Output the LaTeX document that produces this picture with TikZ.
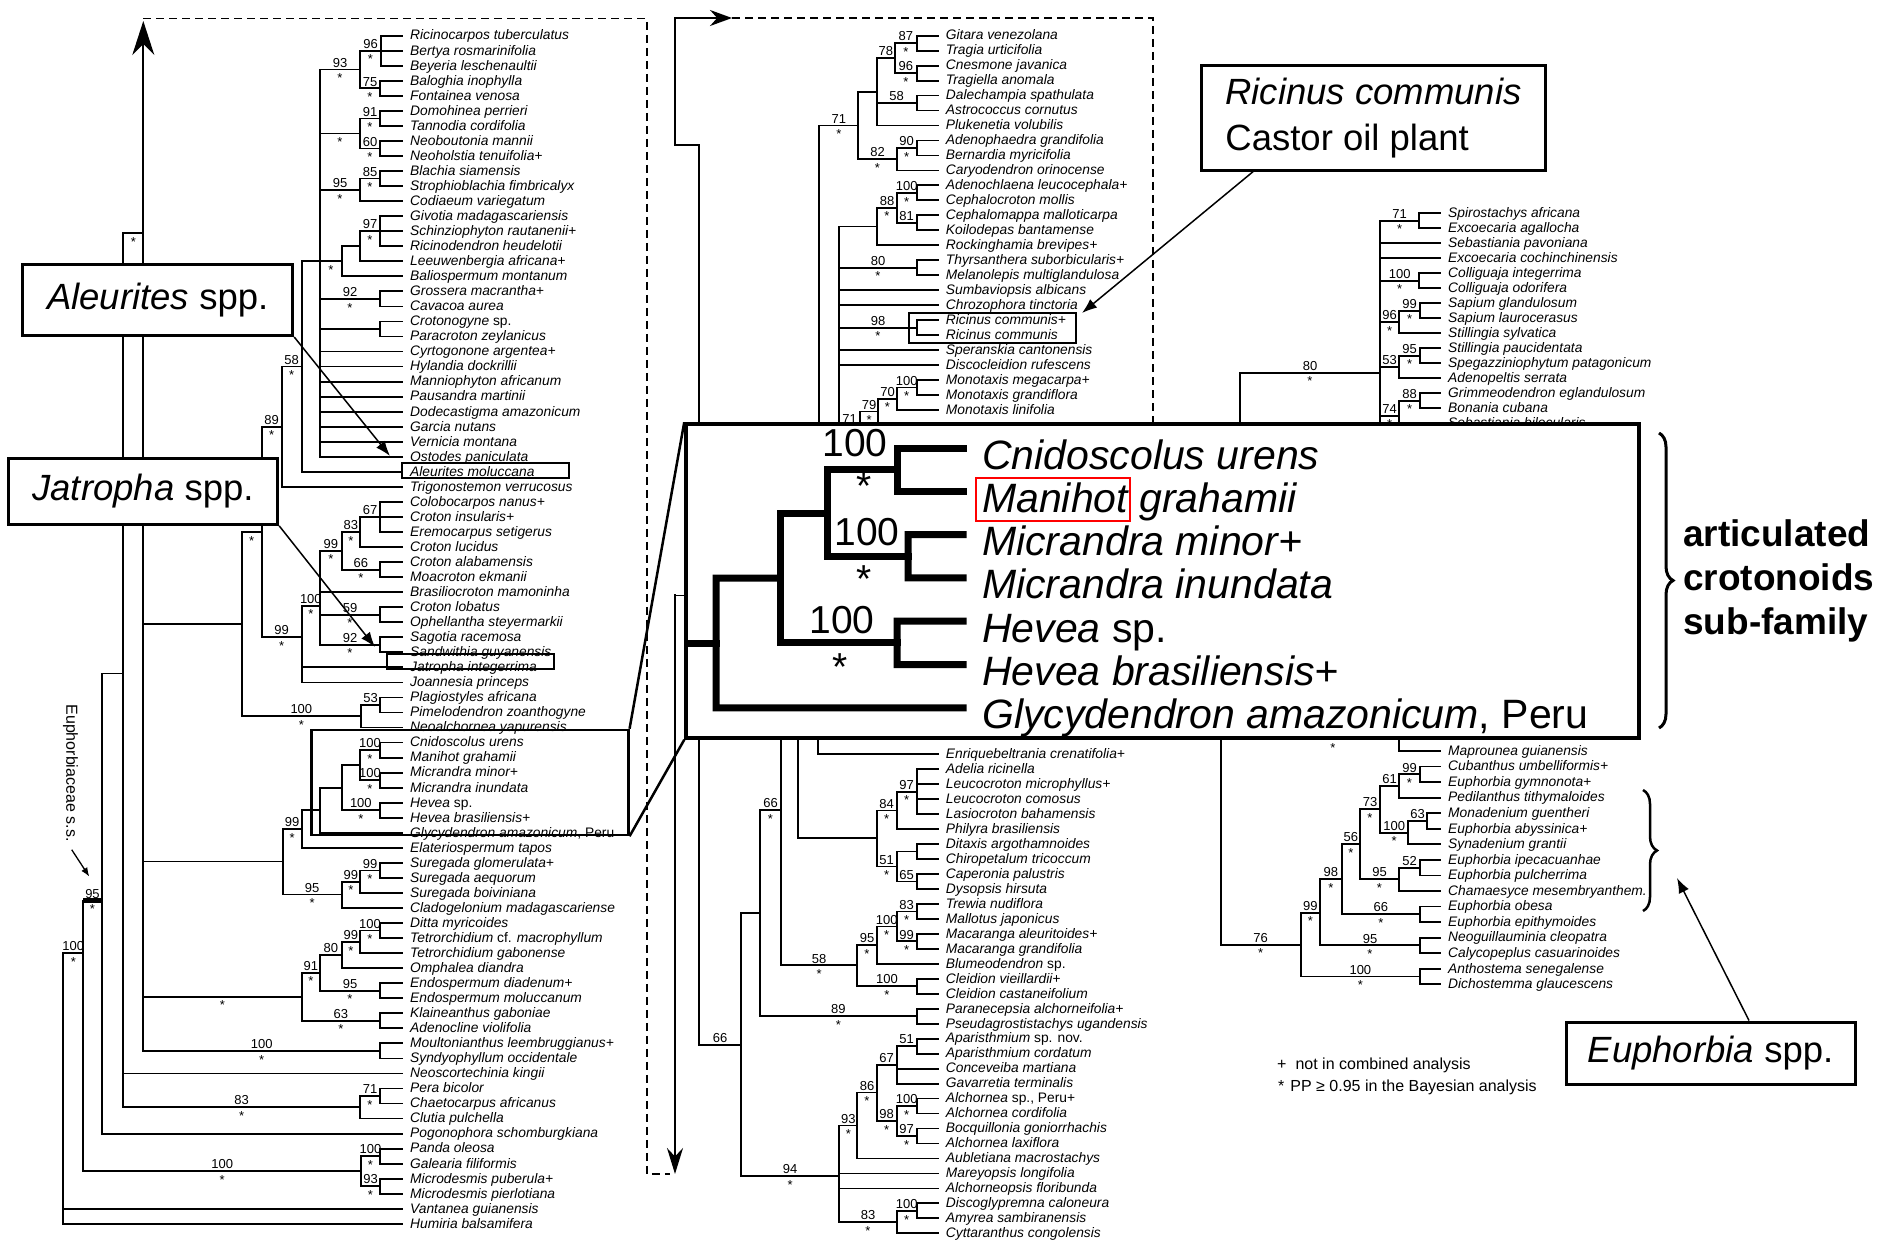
\documentclass[tikz,border=0pt]{standalone}
\usepackage{fontspec}
\setmainfont{Liberation Sans}
\usetikzlibrary{arrows.meta,decorations.pathreplacing}
\tikzset{
  br/.style={line width=1.8pt, line cap=rect},
  taxon/.style={anchor=west, inner xsep=8pt, inner ysep=0pt, text height=10pt, text depth=1.4pt, font=\fontsize{13.8}{15}\selectfont\itshape},
  bs/.style={inner sep=0pt, font=\fontsize{13}{13}\selectfont},
  ibr/.style={line width=7pt, line cap=rect},
  itaxon/.style={anchor=west, inner xsep=19pt, inner ysep=0pt, text height=42pt, text depth=0pt, font=\fontsize{41}{41}\selectfont\itshape},
  ibs/.style={inner sep=0pt, font=\fontsize{39}{39}\selectfont},
  callout/.style={draw, line width=3pt, fill=white, inner sep=0pt, align=left, font=\fontsize{36.5}{45.6}\selectfont},
  tag/.style={draw, line width=2pt},
  ptr/.style={line width=1.5pt, -{Latex[length=15pt,width=11pt]}},
  hop/.style={line width=1.6pt, dash pattern=on 8pt off 5pt},
}
% parent x, node x, stem row, top row, bottom row, bootstrap, star
\newcommand{\nd}[7]{%
  \draw[br] (#1,#3) -- (#2,#3) (#2,#4) -- (#2,#5);
  \node[bs, anchor=south, yshift=2pt] at ({(#1+#2)/2},#3) {#6};
  \node[bs, anchor=north, yshift=-4pt] at ({(#1+#2)/2},#3) {#7};}

\begin{document}
\begin{tikzpicture}[x=1pt, y=-1pt, >=Stealth]
\useasboundingbox (0,0) rectangle (1879,1241);
\fill[white] (0,0) rectangle (1879,1241);

% jumps between the columns
\draw[hop] (143.3,18.5) -- (647,18.5) -- (647,1174) -- (670,1174);
\draw[hop] (732,18) -- (1153,18) -- (1153,600);
\draw[br, -{Stealth[length=34pt, width=22pt]}] (143.3,240) -- (143.3,21);
\draw[br, -{Stealth[length=22pt, width=16pt]}] (675,145) -- (675,18) -- (732,18);
\draw[br, -{Stealth[length=26pt, width=16pt]}] (675,595) -- (675,1174);

% left column
\begin{scope}[yshift=-20.66pt, y=-15.04pt]
\foreach \nm/\px [count=\i] in {Ricinocarpos tuberculatus/381, Bertya rosmarinifolia/381,
  Beyeria leschenaultii/381, Baloghia inophylla/380, Fontainea venosa/380, Domohinea perrieri/380,
  Tannodia cordifolia/380, Neoboutonia mannii/380, Neoholstia tenuifolia+/380, Blachia siamensis/380,
  Strophioblachia fimbricalyx/380, Codiaeum variegatum/360, Givotia madagascariensis/380,
  Schinziophyton rautanenii+/380, Ricinodendron heudelotii/380, Leeuwenbergia africana+/360,
  Baliospermum montanum/341.7, Grossera macrantha+/380, Cavacoa aurea/380, Crotonogyne \textup{sp.}/380,
  Paracroton zeylanicus/380, Cyrtogonone argentea+/320, Hylandia dockrillii/320, Manniophyton africanum/320,
  Pausandra martinii/320, Dodecastigma amazonicum/320, Garcia nutans/320, Vernicia montana/320,
  Ostodes paniculata/320, Aleurites moluccana/301.7, Trigonostemon verrucosus/281.7,
  Colobocarpos nanus+/380, Croton insularis+/380, Eremocarpus setigerus/380, Croton lucidus/360,
  Croton alabamensis/380, Moacroton ekmanii/380, Brasiliocroton mamoninha/320, Croton lobatus/380,
  Ophellantha steyermarkii/380, Sagotia racemosa/380, Sandwithia guyanensis/380,
  Jatropha integerrima/301.7, Joannesia princeps/301.7, Plagiostyles africana/380,
  Pimelodendron zoanthogyne/380, Neoalchornea yapurensis/361, Cnidoscolus urens/380,
  Manihot grahamii/380, Micrandra minor+/380, Micrandra inundata/380, Hevea \textup{sp.}/380,
  Hevea brasiliensis+/380, Glycydendron amazonicum\textup{, Peru}/320, Elateriospermum tapos/301.7,
  Suregada glomerulata+/380, Suregada aequorum/380, Suregada boiviniana/360,
  Cladogelonium madagascariense/341.7, Ditta myricoides/380, Tetrorchidium \textup{cf.} macrophyllum/380,
  Tetrorchidium gabonense/360, Omphalea diandra/341.7, Endospermum diadenum+/380,
  Endospermum moluccanum/380, Klaineanthus gaboniae/380, Adenocline violifolia/380,
  Moultonianthus leembruggianus+/380, Syndyophyllum occidentale/380, Neoscortechinia kingii/123.3,
  Pera bicolor/380, Chaetocarpus africanus/380, Clutia pulchella/360, Pogonophora schomburgkiana/101.7,
  Panda oleosa/380, Galearia filiformis/380, Microdesmis puberula+/380, Microdesmis pierlotiana/380,
  Vantanea guianensis/63.3, Humiria balsamifera/63.3}{
  \node[taxon] (L\i) at (402,\i) {\nm};
  \draw[br] (\px,\i) -- (L\i.west);
}
\nd{360}{381}{2}{1}{3}{96}{*}
\nd{360}{380}{4.5}{4}{5}{75}{*}
\nd{320}{360}{3.25}{2}{4.5}{93}{*}
\nd{360}{380}{6.5}{6}{7}{91}{*}
\nd{360}{380}{8.5}{8}{9}{60}{*}
\nd{320}{360}{7.5}{6.5}{8.5}{}{*}
\nd{360}{380}{10.5}{10}{11}{85}{*}
\nd{320}{360}{11.25}{10.5}{12}{95}{*}
\nd{360}{380}{14}{13}{15}{97}{*}
\nd{341.7}{360}{15}{14}{16}{}{}
\nd{320}{341.7}{16}{15}{17}{}{*}
\nd{320}{380}{18.5}{18}{19}{92}{*}
\nd{320}{380}{20.5}{20}{21}{}{}
\nd{301.7}{320}{16}{3.25}{29}{}{}
\nd{281.7}{301.7}{23}{16}{30}{58}{*}
\nd{261.7}{281.7}{27}{23}{31}{89}{*}
\nd{360}{380}{33}{32}{34}{67}{}
\nd{341.7}{360}{34}{33}{35}{83}{*}
\nd{341.7}{380}{36.5}{36}{37}{66}{*}
\nd{320}{341.7}{35.25}{34}{36.5}{99}{*}
\nd{320}{380}{39.5}{39}{40}{59}{*}
\nd{320}{380}{41.5}{41}{42}{92}{*}
\nd{301.7}{320}{38.9}{35.25}{41.5}{100}{*}
\nd{261.7}{301.7}{41}{38.9}{44}{99}{*}
\nd{241.7}{261.7}{34}{27}{41}{}{*}
\nd{361}{380}{45.5}{45}{46}{53}{}
\nd{241.7}{361}{46.25}{45.5}{47}{100}{*}
\nd{143.3}{241.7}{40.1}{34}{46.25}{}{}
\nd{360}{380}{48.5}{48}{49}{100}{*}
\nd{360}{380}{50.5}{50}{51}{100}{*}
\nd{341.7}{360}{49.5}{48.5}{50.5}{}{}
\nd{341.7}{380}{52.5}{52}{53}{100}{*}
\nd{320}{341.7}{51}{49.5}{52.5}{}{}
\nd{301.7}{320}{52.5}{51}{54}{}{}
\nd{282.7}{301.7}{53.75}{52.5}{55}{99}{*}
\nd{360}{380}{56.5}{56}{57}{99}{*}
\nd{341.7}{360}{57.25}{56.5}{58}{99}{*}
\nd{282.7}{341.7}{58.1}{57.25}{59}{95}{*}
\nd{143.3}{282.7}{55.9}{53.75}{58.1}{}{}
\nd{360}{380}{60.5}{60}{61}{100}{*}
\nd{341.7}{360}{61.25}{60.5}{62}{99}{*}
\nd{320}{341.7}{62.1}{61.25}{63}{80}{}
\nd{320}{380}{64.5}{64}{65}{95}{*}
\nd{301.7}{320}{63.3}{62.1}{64.5}{91}{*}
\nd{301.7}{380}{66.5}{66}{67}{63}{*}
\nd{143.3}{301.7}{64.9}{63.3}{66.5}{}{*}
\nd{143.3}{380}{68.5}{68}{69}{100}{*}
\nd{360}{380}{71.5}{71}{72}{71}{*}
\nd{123.3}{360}{72.25}{71.5}{73}{83}{*}
\nd{361}{380}{75.5}{75}{76}{100}{*}
\nd{361}{380}{77.5}{77}{78}{93}{*}
\nd{83.3}{361}{76.5}{75.5}{77.5}{100}{*}
\nd{123.3}{143.3}{14.12}{14.12}{68.5}{}{*}
\nd{101.7}{123.3}{43.4}{14.12}{72.25}{}{}
\nd{83.3}{101.7}{58.5}{43.4}{74}{95}{*}
\draw[line width=5pt] (83.3,58.5) -- (101.7,58.5);
\nd{63.3}{83.3}{62}{58.5}{76.5}{100}{*}
\draw[br] (63.3,62) -- (63.3,80);
\end{scope}

% middle column
\begin{scope}[yshift=-20.73pt, y=-14.97pt]
\foreach \nm/\px [count=\i] in {Gitara venezolana/916.7, Tragia urticifolia/916.7, Cnesmone javanica/916.7,
  Tragiella anomala/916.7, Dalechampia spathulata/916.7, Astrococcus cornutus/916.7,
  Plukenetia volubilis/876.7, Adenophaedra grandifolia/916.7, Bernardia myricifolia/916.7,
  Caryodendron orinocense/896.7, Adenochlaena leucocephala+/916.7, Cephalocroton mollis/916.7,
  Cephalomappa malloticarpa/916.7, Koilodepas bantamense/916.7, Rockinghamia brevipes+/877.3,
  Thyrsanthera suborbicularis+/916.7, Melanolepis multiglandulosa/916.7, Sumbaviopsis albicans/839.3,
  Chrozophora tinctoria/839.3, Ricinus communis+/916.7, Ricinus communis/916.7,
  Speranskia cantonensis/839.3, Discocleidion rufescens/839.3, Monotaxis megacarpa+/916.7,
  Monotaxis grandiflora/916.7, Monotaxis linifolia/896.7}{
  \node[taxon] (M\i) at (937.7,\i) {\nm};
  \draw[br] (\px,\i) -- (M\i.west);
}
\foreach \nm/\px [count=\i from 49] in {Enriquebeltrania crenatifolia+/818.3, Adelia ricinella/916.7,
  Leucocroton microphyllus+/916.7, Leucocroton comosus/916.7, Lasiocroton bahamensis/916.7,
  Philyra brasiliensis/896.7, Ditaxis argothamnoides/916.7, Chiropetalum tricoccum/916.7,
  Caperonia palustris/916.7, Dysopsis hirsuta/916.7, Trewia nudiflora/916.7, Mallotus japonicus/916.7,
  Macaranga aleuritoides+/916.7, Macaranga grandifolia/916.7, Blumeodendron \textup{sp.}/876.7,
  Cleidion vieillardii+/916.7, Cleidion castaneifolium/916.7, Paranecepsia alchorneifolia+/916.7,
  Pseudagrostistachys ugandensis/916.7, Aparisthmium \textup{sp. nov.}/916.7, Aparisthmium cordatum/916.7,
  Conceveiba martiana/896.7, Gavarretia terminalis/896.7, Alchornea \textup{sp., Peru+}/916.7,
  Alchornea cordifolia/916.7, Bocquillonia goniorrhachis/916.7, Alchornea laxiflora/916.7,
  Aubletiana macrostachys/857.3, Mareyopsis longifolia/839.3, Alchorneopsis floribunda/839.3,
  Discoglypremna caloneura/916.7, Amyrea sambiranensis/916.7, Cyttaranthus congolensis/896.7}{
  \node[taxon] (M\i) at (937.7,\i) {\nm};
  \draw[br] (\px,\i) -- (M\i.west);
}
\nd{895}{916.7}{1.5}{1}{2}{87}{*}
\nd{895}{916.7}{3.5}{3}{4}{96}{*}
\nd{876.7}{895}{2.5}{1.5}{3.5}{78}{}
\nd{876.7}{916.7}{5.5}{5}{6}{58}{}
\nd{858.3}{876.7}{4.75}{2.5}{7}{}{}
\nd{896.7}{916.7}{8.5}{8}{9}{90}{*}
\nd{858.3}{896.7}{9.25}{8.5}{10}{82}{*}
\nd{819.3}{858.3}{7}{4.75}{9.25}{71}{*}
\nd{896.7}{916.7}{11.5}{11}{12}{100}{*}
\nd{896.7}{916.7}{13.5}{13}{14}{81}{}
\nd{877.3}{896.7}{12.5}{11.5}{13.5}{88}{*}
\nd{839.3}{877.3}{13.75}{12.5}{15}{}{}
\nd{839.3}{916.7}{16.5}{16}{17}{80}{*}
\nd{839.3}{916.7}{20.5}{20}{21}{98}{*}
\nd{896.7}{916.7}{24.5}{24}{25}{100}{*}
\nd{878.3}{896.7}{25.25}{24.5}{26}{70}{*}
\nd{860}{878.3}{26.1}{25.25}{28}{79}{*}
\nd{839.3}{860}{27.05}{26.1}{29}{71}{}
\draw[br] (839.3,13.75) -- (839.3,32) (819.3,7) -- (819.3,32);
\draw[br] (675,8.3) -- (699,8.3) -- (699,68.4) (675,38.4) -- (699,38.4);
\draw[br] (798.3,45) -- (798.3,54.6) (818.3,45) -- (818.3,49);
\nd{896.7}{916.7}{51.5}{50}{53}{97}{*}
\nd{876.7}{896.7}{52.75}{51.5}{54}{84}{*}
\nd{896.7}{916.7}{55.5}{55}{56}{}{}
\nd{896.7}{916.7}{57.5}{57}{58}{65}{}
\nd{876.7}{896.7}{56.5}{55.5}{57.5}{51}{*}
\nd{798.3}{876.7}{54.6}{52.75}{56.5}{}{}
\nd{896.7}{916.7}{59.5}{59}{60}{83}{*}
\nd{896.7}{916.7}{61.5}{61}{62}{99}{*}
\nd{876.7}{896.7}{60.5}{59.5}{61.5}{100}{*}
\nd{857.3}{876.7}{61.75}{60.5}{63}{95}{*}
\nd{857.3}{916.7}{64.5}{64}{65}{100}{*}
\nd{781}{857.3}{63.1}{61.75}{64.5}{58}{*}
\nd{760}{781}{52.72}{45}{63.1}{66}{*}
\nd{760}{916.7}{66.5}{66}{67}{89}{*}
\nd{741}{760}{59.6}{52.72}{66.5}{}{}
\nd{699}{741}{68.4}{59.6}{77.17}{66}{}
\nd{896.7}{916.7}{68.5}{68}{69}{51}{}
\nd{876.7}{896.7}{69.75}{68.5}{71}{67}{}
\nd{896.7}{916.7}{72.5}{72}{73}{100}{*}
\nd{896.7}{916.7}{74.5}{74}{75}{97}{*}
\nd{876.7}{896.7}{73.5}{72.5}{74.5}{98}{*}
\nd{857.3}{876.7}{71.6}{69.75}{73.5}{86}{*}
\nd{839.3}{857.3}{73.8}{71.6}{76}{93}{*}
\nd{896.7}{916.7}{79.5}{79}{80}{100}{*}
\nd{839.3}{896.7}{80.25}{79.5}{81}{83}{*}
\nd{741}{839.3}{77.17}{73.8}{80.25}{94}{*}
\end{scope}

% right column, upper part
\begin{scope}[yshift=-198.3pt, y=-15pt]
\foreach \nm/\px [count=\i] in {Spirostachys africana/1419.3, Excoecaria agallocha/1419.3,
  Sebastiania pavoniana/1380, Excoecaria cochinchinensis/1380, Colliguaja integerrima/1419.3,
  Colliguaja odorifera/1419.3, Sapium glandulosum/1420, Sapium laurocerasus/1420,
  Stillingia sylvatica/1399.3, Stillingia paucidentata/1420, Spegazziniophytum patagonicum/1420,
  Adenopeltis serrata/1399.3, Grimmeodendron eglandulosum/1420, Bonania cubana/1420,
  Sebastiania bilocularis/1399.3}{
  \node[taxon] (R\i) at (1440,\i) {\nm};
  \draw[br] (\px,\i) -- (R\i.west);
}
\nd{1380}{1419.3}{1.5}{1}{2}{71}{*}
\nd{1380}{1419.3}{5.5}{5}{6}{100}{*}
\nd{1399.3}{1420}{7.5}{7}{8}{99}{*}
\nd{1380}{1399.3}{8.25}{7.5}{9}{96}{*}
\nd{1399.3}{1420}{10.5}{10}{11}{95}{*}
\nd{1380}{1399.3}{11.25}{10.5}{12}{53}{}
\nd{1399.3}{1420}{13.5}{13}{14}{88}{*}
\nd{1380}{1399.3}{14.5}{13.5}{16}{74}{*}
\nd{1240}{1380}{11.63}{1.5}{22}{80}{*}
\draw[br] (1240,11.63) -- (1240,25);
\end{scope}

% right column, lower part
\begin{scope}[yshift=-751pt, y=-15.55pt]
\foreach \nm/\px [count=\i from 0] in {Maprounea guianensis/1399, Cubanthus umbelliformis+/1420,
  Euphorbia gymnonota+/1420, Pedilanthus tithymaloides/1399, Monadenium guentheri/1426.7,
  Euphorbia abyssinica+/1426.7, Synadenium grantii/1408.3, Euphorbia ipecacuanhae/1420,
  Euphorbia pulcherrima/1420, Chamaesyce mesembryanthem./1399, Euphorbia obesa/1420,
  Euphorbia epithymoides/1420, Neoguillauminia cleopatra/1420, Calycopeplus casuarinoides/1420,
  Anthostema senegalense/1420, Dichostemma glaucescens/1420}{
  \node[taxon] (E\i) at (1440,\i) {\nm};
  \draw[br] (\px,\i) -- (E\i.west);
}
\draw[br] (1399,-1.5) -- (1399,0) (1220.7,-3) -- (1220.7,12.45);
\node[bs] at (1333,-0.2) {*};
\nd{1399}{1420}{1.5}{1}{2}{99}{*}
\nd{1380}{1399}{2.25}{1.5}{3}{61}{}
\nd{1408.3}{1426.7}{4.5}{4}{5}{63}{}
\nd{1380}{1408.3}{5.25}{4.5}{6}{100}{*}
\nd{1360}{1380}{3.75}{2.25}{5.25}{73}{*}
\nd{1399}{1420}{7.5}{7}{8}{52}{}
\nd{1360}{1399}{8.25}{7.5}{9}{95}{*}
\nd{1341.7}{1360}{6}{3.75}{8.25}{56}{*}
\nd{1341.7}{1420}{10.5}{10}{11}{66}{*}
\nd{1320}{1341.7}{8.25}{6}{10.5}{98}{*}
\nd{1320}{1420}{12.5}{12}{13}{95}{*}
\nd{1300.7}{1320}{10.4}{8.25}{12.5}{99}{*}
\nd{1300.7}{1420}{14.5}{14}{15}{100}{*}
\nd{1220.7}{1300.7}{12.45}{10.4}{14.5}{76}{*}
\end{scope}

% name boxes in the columns
\draw[tag] (401.7,462.7) rectangle (569.3,478.3);
\draw[tag] (386.7,654) rectangle (554,669.3);
\draw[tag] (909.3,313.3) rectangle (1076,342.7);
\node[draw, line width=2.5pt, minimum width=316.6pt, minimum height=105pt, inner sep=0pt] (cnid) at (470,782.5) {};

% enlarged clade
\node[draw, line width=3.5pt, fill=white, minimum width=953pt, minimum height=314pt, inner sep=0pt] (inset) at (1162.5,581) {};
\draw[line width=2.5pt] (cnid.north east) -- (inset.north west) (cnid.south east) -- (inset.south west);
\foreach \nm [count=\i] in {Cnidoscolus urens, Manihot grahamii, Micrandra minor+, Micrandra inundata,
  Hevea \textup{sp.}, Hevea brasiliensis+, Glycydendron amazonicum\textup{, Peru}}{
  \node[itaxon] (I\i) at (963,{448+43.3*(\i-1)}) {\nm};
}
\draw[ibr] (I1.west) -- (897,448) -- (897,491.3) -- (I2.west);
\draw[ibr] (I3.west) -- (908,534.6) -- (908,577.9) -- (I4.west);
\draw[ibr] (I5.west) -- (897,621.2) -- (897,664.5) -- (I6.west);
\draw[ibr] (897,469.7) -- (827.5,469.7) -- (827.5,556.3) -- (908,556.3);
\draw[ibr] (827.5,513) -- (780,513) -- (780,642.9) -- (897,642.9);
\draw[ibr] (780,578) -- (716,578) -- (716,707.8) -- (I7.west);
\draw[ibr] (716,643) -- (690,643);
\node[ibs] at (855,443) {100};
\node[ibs] at (864,486) {*};
\node[ibs] at (867,532) {100};
\node[ibs] at (864,579) {*};
\node[ibs] at (842,620) {100};
\node[ibs] at (840,667) {*};
\node[draw=red, line width=2.5pt, minimum width=154pt, minimum height=43pt, inner sep=0pt] (redbox) at (1053,499.5) {};

% braces and notes
\draw[line width=3pt, decorate, decoration={brace, amplitude=14pt}] (1659,433) -- (1659,728);
\node[anchor=west, align=left, inner sep=0pt, font=\bfseries\fontsize{37}{44}\selectfont] (artic) at (1683,581) {articulated\\crotonoids\\sub-family};
\draw[line width=2.5pt, decorate, decoration={brace, amplitude=14pt}] (1643,790) -- (1643,911);
\node[anchor=west, inner sep=0pt, font=\fontsize{16}{16}\selectfont] (leg1) at (1277,1065) {+\hspace{9pt}not in combined analysis};
\node[anchor=west, inner sep=0pt, font=\fontsize{16}{16}\selectfont] (leg2) at (1278,1087) {*\hspace{6pt}PP ≥ 0.95 in the Bayesian analysis};
\node[rotate=-90, inner sep=0pt, font=\fontsize{16}{16}\selectfont] (euss) at (70.5,773) {Euphorbiaceae s.s.};
\coordinate (eusstip) at (89.3,876.6);
\draw[line width=1.3pt, -{Latex[length=9pt,width=7pt]}] (71.7,849.7) -- (eusstip);

% callouts
\node[callout, minimum width=270pt, minimum height=70.5pt] (aleu) at (157.7,300.25) {\textit{Aleurites} spp.};
\node[callout, minimum width=269.4pt, minimum height=66.3pt] (jat) at (143,491.2) {\textit{Jatropha} spp.};
\node[callout, minimum width=343.8pt, minimum height=104.2pt] (ric) at (1373.5,118) {\textit{Ricinus communis}\\Castor oil plant};
\node[callout, minimum width=289pt, minimum height=62pt] (euph) at (1710.5,1053) {\textit{Euphorbia} spp.};
\coordinate (aleutip) at (390,456);
\coordinate (jattip) at (375,647);
\coordinate (rictip) at (1082,313);
\coordinate (euphtip) at (1677,878);
\draw[ptr] (aleu.south east) -- (aleutip);
\draw[ptr] (jat.south east) -- (jattip);
\draw[ptr] ([xshift=53pt]ric.south west) -- (rictip);
\draw[ptr] ([xshift=38.5pt]euph.north) -- (euphtip);
\end{tikzpicture}
\end{document}
